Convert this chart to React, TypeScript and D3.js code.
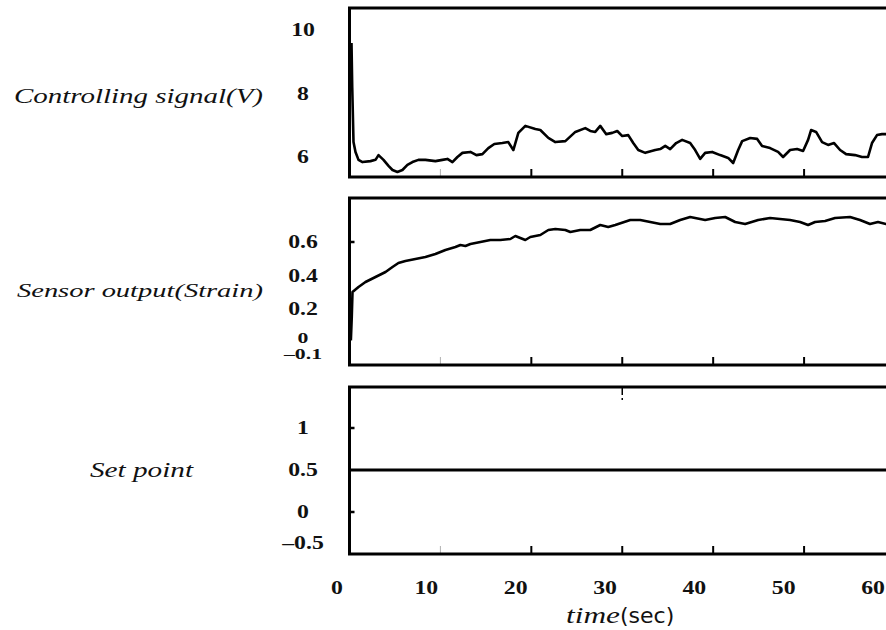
import React from 'react';
import * as d3 from 'd3';

// ---------- data ----------
const TIME_TICKS = [10, 20, 30, 40, 50];
const TIME_LABELS = [0, 10, 20, 30, 40, 50, 60];

const SIGNAL_TICKS = [10, 8, 6];
const STRAIN_TICKS = [0.6, 0.4, 0.2, 0, -0.1];
const SETPOINT_TICKS = [1, 0.5, 0, -0.5];

const SIGNAL_T = [0.22, 0.3, 0.44, 0.66, 0.99, 1.43, 2.31, 2.86, 3.19, 3.74, 4.29, 4.73, 5.27, 5.82, 6.37, 6.92, 7.58, 8.35, 9.45, 10.22, 10.77, 11.32, 11.87, 12.42, 13.3, 13.96, 14.62, 15.27, 15.93, 16.81, 17.47, 18.02, 18.57, 19.34, 20.44, 20.99, 21.87, 22.64, 23.74, 24.84, 25.93, 26.48, 27.03, 27.58, 28.24, 28.9, 29.45, 30.0, 30.66, 31.21, 31.76, 32.53, 33.63, 34.18, 34.73, 35.27, 35.93, 36.59, 37.47, 38.02, 38.57, 39.12, 39.89, 40.77, 41.65, 42.2, 42.75, 43.19, 44.07, 44.84, 45.38, 46.26, 47.14, 47.69, 48.46, 49.23, 49.89, 50.44, 50.77, 51.32, 51.98, 52.64, 53.3, 53.96, 54.62, 55.6, 56.37, 57.03, 57.47, 58.02, 58.57, 59.45];
const SIGNAL_V = [9.59, 8.2, 6.47, 6.16, 5.91, 5.84, 5.87, 5.91, 6.06, 5.91, 5.72, 5.59, 5.53, 5.59, 5.75, 5.84, 5.91, 5.91, 5.87, 5.91, 5.94, 5.84, 6.0, 6.13, 6.16, 6.06, 6.09, 6.28, 6.41, 6.44, 6.47, 6.22, 6.76, 6.98, 6.88, 6.85, 6.6, 6.47, 6.5, 6.79, 6.91, 6.82, 6.79, 6.98, 6.72, 6.76, 6.82, 6.66, 6.69, 6.44, 6.22, 6.13, 6.22, 6.25, 6.35, 6.25, 6.44, 6.54, 6.44, 6.22, 5.94, 6.13, 6.16, 6.06, 5.97, 5.81, 6.22, 6.5, 6.6, 6.57, 6.35, 6.28, 6.16, 6.0, 6.22, 6.25, 6.19, 6.54, 6.85, 6.79, 6.47, 6.38, 6.44, 6.22, 6.09, 6.06, 6.0, 6.0, 6.44, 6.69, 6.72, 6.72];

const STRAIN_T = [0.15, 0.25, 0.33, 0.99, 1.76, 2.86, 3.96, 4.73, 5.38, 6.15, 7.25, 8.35, 9.45, 10.55, 11.65, 12.2, 12.75, 13.3, 14.4, 15.49, 16.59, 17.69, 18.24, 18.79, 19.34, 19.89, 20.99, 21.87, 22.64, 23.74, 24.29, 25.38, 26.48, 27.58, 28.46, 29.23, 30.88, 31.98, 33.08, 34.18, 35.27, 36.37, 37.47, 38.57, 39.12, 40.22, 41.32, 42.42, 43.52, 44.95, 46.26, 48.46, 49.56, 50.44, 51.21, 52.31, 53.41, 55.05, 56.15, 57.25, 58.13, 59.01, 60];
const STRAIN_V = [0.01, 0.15, 0.3, 0.33, 0.36, 0.39, 0.42, 0.45, 0.474, 0.486, 0.498, 0.51, 0.528, 0.552, 0.57, 0.582, 0.576, 0.588, 0.6, 0.612, 0.612, 0.618, 0.636, 0.624, 0.612, 0.63, 0.642, 0.672, 0.678, 0.672, 0.66, 0.672, 0.672, 0.702, 0.69, 0.702, 0.732, 0.732, 0.72, 0.708, 0.708, 0.732, 0.75, 0.738, 0.732, 0.744, 0.75, 0.72, 0.708, 0.732, 0.744, 0.732, 0.72, 0.702, 0.72, 0.726, 0.744, 0.75, 0.732, 0.708, 0.72, 0.708, 0.71];

const SETPOINT_T = [0, 60];
const SETPOINT_V = [0.5, 0.5];

// ---------- helpers ----------
const fmt = (v: number) => (v < 0 ? '\u2013' + String(Math.abs(v)) : String(v));
const SERIF = "'Liberation Serif', 'Times New Roman', Times, serif";

export default function App() {
  const W = 886;
  const H = 630;
  const x = d3.scaleLinear().domain([0, 60]).range([349.5, 895]);
  const xLab = d3.scaleLinear().domain([0, 60]).range([337, 873]);

  const panels = [
    {
      top: 8, bottom: 177,
      y: d3.scaleLinear().domain([6, 10]).range([157, 30]),
      t: SIGNAL_T, v: SIGNAL_V, ticks: SIGNAL_TICKS, leftTicks: [] as number[],
      title: 'Controlling signal(V)', titleX: 14, titleW: 249, titleY: 103, titleSize: 20,
    },
    {
      top: 198, bottom: 365,
      y: d3.scaleLinear().domain([0, 0.6]).range([342, 242]),
      t: STRAIN_T, v: STRAIN_V, ticks: STRAIN_TICKS, leftTicks: [0.6],
      title: 'Sensor output(Strain)', titleX: 17, titleW: 246, titleY: 297, titleSize: 19,
    },
    {
      top: 387, bottom: 554,
      y: d3.scaleLinear().domain([0, 1]).range([512, 428]),
      t: SETPOINT_T, v: SETPOINT_V, ticks: SETPOINT_TICKS, leftTicks: [1, 0],
      title: 'Set point', titleX: 90, titleW: 103, titleY: 477, titleSize: 22,
    },
  ];

  return (
    <svg width={W} height={H} style={{ position: 'absolute', left: 0, top: 0, background: '#fff' }}>
      <rect x={0} y={0} width={W} height={H} fill="#fff" />
      {panels.map((p, i) => {
        const line = d3
          .line<number>()
          .x((_, k) => x(p.t[k]))
          .y((d) => p.y(d));
        // keep neighbouring labels from colliding (the -0.1 label sits just under 0)
        const labelY = (v: number) => {
          let yy = Math.min(p.y(v), p.bottom - 11);
          if (i === 1 && v === 0) yy -= 4;
          if (i === 1 && v < 0) yy += 0;
          return yy;
        };
        return (
          <g key={i}>
            {/* frame */}
            <rect x={x(0)} y={p.top} width={x(60) - x(0) + 10} height={p.bottom - p.top} fill="none" stroke="#000" strokeWidth={3} />
            {/* bottom inner ticks */}
            {TIME_TICKS.map((t) => (
              <line key={t} x1={x(t)} x2={x(t)} y1={p.bottom} y2={p.bottom - 8} stroke="#000" strokeWidth={t === 10 ? 1 : 2} opacity={t === 10 ? 0.3 : 1} />
            ))}
            {/* left inner ticks */}
            {p.leftTicks.map((v) => (
              <line key={v} x1={x(0)} x2={x(0) + 5} y1={p.y(v)} y2={p.y(v)} stroke="#000" strokeWidth={2.5} />
            ))}
            {/* data line */}
            <path d={line(p.v) || ''} fill="none" stroke="#000" strokeWidth={i === 2 ? 3 : 2.6} strokeLinejoin="round" />
            {/* tick labels */}
            {p.ticks.map((v) => (
              <text
                key={v}
                transform={`translate(303,${labelY(v)}) scale(${i === 1 && v <= 0 ? 1.45 : 1.25},1)`}
                textAnchor="middle"
                dominantBaseline="central"
                fontFamily={SERIF}
                fontWeight="bold"
                fontSize={i === 1 && v <= 0 ? 15 : 19}
                fill="#111"
              >
                {fmt(v)}
              </text>
            ))}
            {/* title */}
            <text
              x={p.titleX}
              y={p.titleY}
              fontFamily={SERIF}
              fontStyle="italic"
              fontSize={p.titleSize}
              textLength={p.titleW}
              lengthAdjust="spacingAndGlyphs"
              fill="#111"
            >
              {p.title}
            </text>
          </g>
        );
      })}
      {/* dashed tick at top of bottom panel */}
      <line x1={x(30)} x2={x(30)} y1={388} y2={400} stroke="#000" strokeWidth={1.5} strokeDasharray="7 3" />
      {/* x labels */}
      {TIME_LABELS.map((t) => (
        <text
          key={t}
          transform={`translate(${xLab(t)},588) scale(1.25,1)`}
          textAnchor="middle"
          dominantBaseline="central"
          fontFamily={SERIF}
          fontWeight="bold"
          fontSize={19}
          fill="#111"
        >
          {t}
        </text>
      ))}
      {/* x title */}
      <text y={623} fill="#111">
        <tspan x={566} fontFamily={SERIF} fontStyle="italic" fontSize={24} textLength={54} lengthAdjust="spacingAndGlyphs">
          time
        </tspan>
        <tspan x={620} fontFamily="'DejaVu Sans', sans-serif" fontSize={22}>
          (sec)
        </tspan>
      </text>
    </svg>
  );
}
